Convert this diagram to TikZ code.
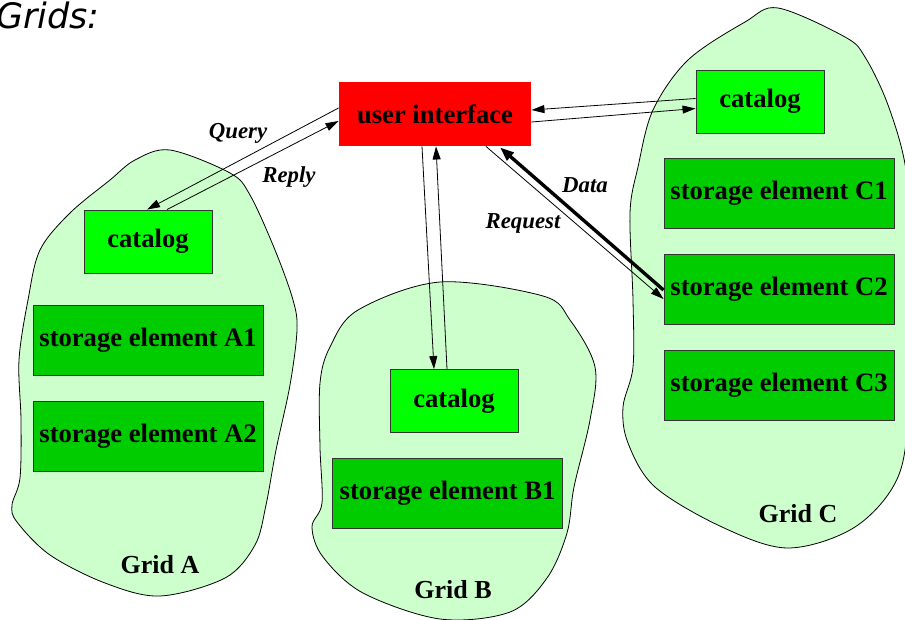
\documentclass[tikz,border=0pt]{standalone}
\usepackage{fontspec}
\setmainfont{Liberation Serif}
\newfontfamily\djv{DejaVu Sans}
\usetikzlibrary{arrows.meta}
\definecolor{blobg}{HTML}{CCFFCC}
\definecolor{catg}{HTML}{00FF00}
\definecolor{stog}{HTML}{00CC00}
\tikzset{
 box/.style={draw=black!80, line width=0.9pt, inner sep=0pt, font=\fontsize{26.6}{30}\selectfont\bfseries},
 catbox/.style={box, fill=catg, minimum width=128pt, minimum height=63pt},
 stobox/.style={box, fill=stog, minimum width=230pt, minimum height=70pt},
 uibox/.style={box, draw=none, fill=red, minimum width=192pt, minimum height=64pt},
 blob/.style={draw=black, line width=0.8pt, fill=blobg},
 conn/.style={line width=0.8pt, -{Triangle[length=13pt,width=8pt]}},
 thickconn/.style={line width=3.4pt, -{Triangle[length=14pt,width=10pt]}},
 lbl/.style={font=\fontsize{22.8}{26}\selectfont\bfseries\itshape},
 gridlbl/.style={font=\fontsize{26}{30}\selectfont\bfseries, anchor=base},
}
\begin{document}
\begin{tikzpicture}[x=1pt,y=-1pt]
\useasboundingbox (0,0) rectangle (905,619);
\clip (0,0) rectangle (905,619);
% blobs
\draw[blob] plot[smooth cycle, tension=0.55] coordinates {
 (170,150) (230,173) (250,195) (275,250) (293,300) (297,330) (290,385)
 (276,450) (266,505) (255,545) (225,578) (160,596) (105,583) (50,555)
 (17,522) (12,505) (20,478) (21,420) (19,360) (28,300) (40,250)
 (70,213) (110,180) (135,160)};
\draw[blob] plot[smooth cycle, tension=0.55] coordinates {
 (440,282) (543,296) (570,320) (595,367) (590,420) (574,487) (567,533)
 (547,578) (510,612) (440,619) (363,593) (323,557) (312,527) (322,503)
 (320,447) (320,383) (330,347) (358,310)};
\draw[blob] plot[smooth cycle, tension=0.55] coordinates {
 (778,8) (845,37) (865,57) (888,105) (906,170) (911,260) (909,400)
 (898,477) (855,527) (788,548) (722,527) (655,487) (628,443) (623,407)
 (633,367) (633,300) (630,213) (638,167) (653,110) (688,60) (745,22)};
% title
\node[font=\djv\itshape\fontsize{35}{40}\selectfont, anchor=base west, inner sep=0pt] (title) at (-4,28) {Grids:};
% nodes
\node[uibox] (ui) at (435,114) {user interface};
\node[catbox] (cata) at (148,241.5) {catalog};
\node[stobox] (sa1) at (148,340.5) {storage element A1};
\node[stobox] (sa2) at (148,436) {storage element A2};
\node[catbox] (catb) at (454,401) {catalog};
\node[stobox] (sb1) at (447.5,493.5) {storage element B1};
\node[catbox] (catc) at (760,101.5) {catalog};
\node[stobox] (sc1) at (779,193.5) {storage element C1};
\node[stobox] (sc2) at (779,289) {storage element C2};
\node[stobox] (sc3) at (779,385) {storage element C3};
\node[gridlbl] (ga) at (160,573) {Grid A};
\node[gridlbl] (gb) at (453,598) {Grid B};
\node[gridlbl] (gc) at (798,522) {Grid C};
% connectors
\draw[conn] ([yshift=6pt]ui.west) -- ([xshift=-1pt]cata.north);
\draw[conn] ([xshift=19pt]cata.north) -- ([yshift=-7pt]ui.west);
\draw[conn] ([yshift=3pt]catc.west) -- ([yshift=4pt]ui.east);
\draw[conn] ([yshift=-8pt]ui.east) -- ([yshift=-7pt]catc.west);
\draw[conn] ([xshift=-13pt]ui.south) -- ([xshift=-20pt]catb.north);
\draw[conn] ([xshift=-7pt]catb.north) -- ([xshift=1pt]ui.south);
\draw[conn] ([xshift=51pt]ui.south) -- ([yshift=-10pt]sc2.west);
\draw[thickconn] ([yshift=-1pt]sc2.west) -- ([xshift=65pt,yshift=-1pt]ui.south);
% labels
\node[lbl] (lq) at (238,133) {Query};
\node[lbl] (lr) at (289,177) {Reply};
\node[lbl] (ld) at (585,185) {Data};
\node[lbl] (lreq) at (523,223) {Request};
\end{tikzpicture}
\end{document}
